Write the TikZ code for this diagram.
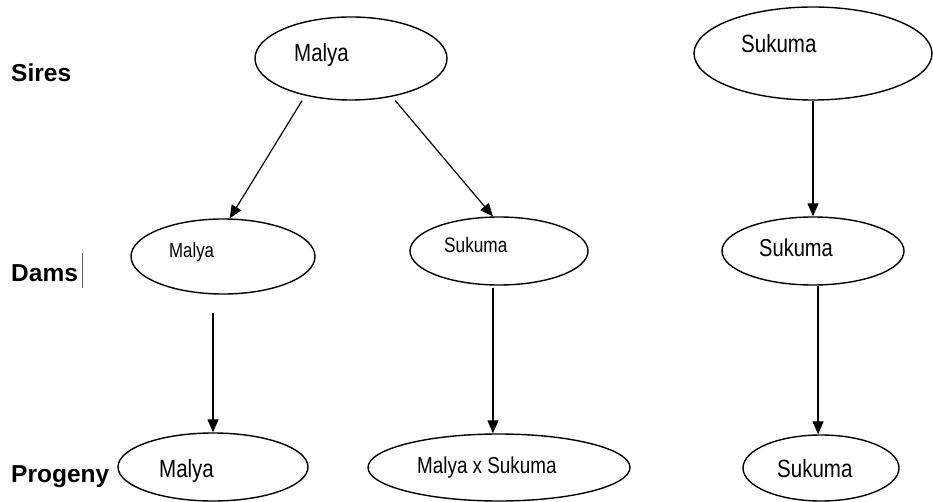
\documentclass[tikz,border=0pt]{standalone}
\usepackage{fontspec}
\setmainfont{Liberation Sans}
\newfontfamily\nf{Liberation Sans}[FakeStretch=0.82]
\usetikzlibrary{shapes.geometric,arrows.meta}
\begin{document}
\begin{tikzpicture}[x=1pt,y=-1pt,
  ell/.style={draw=black, ellipse, line width=1.4pt, inner sep=0pt},
  txt/.style={anchor=base west, inner sep=0pt, font=\nf\fontsize{#1}{#1}\selectfont},
  lbl/.style={anchor=base west, inner sep=0pt, font=\bfseries\fontsize{24.5}{24.5}\selectfont},
  arr/.style={line width=1.2pt, -{Triangle[length=13pt,width=11pt]}}]
\useasboundingbox (0,0) rectangle (933,502);
% labels
\node[lbl] (lsires) at (11,82) {Sires};
\node[lbl] (ldams) at (11,282) {Dams};
\node[lbl] (lprog) at (11,482) {Progeny};
\coordinate (cur1) at (82,253);
\coordinate (cur2) at (82,288);
\draw[gray!70!black, line width=0.8pt] (cur1) -- (cur2);
% sires
\node[ell, minimum width=192pt, minimum height=83pt] (s1) at (351,58.5) {};
\node[txt=25] (s1t) at (294,62) {Malya};
\node[ell, minimum width=238pt, minimum height=93pt] (s2) at (813,53.5) {};
\node[txt=25] (s2t) at (741,53) {Sukuma};
% dams
\node[ell, minimum width=184pt, minimum height=75pt] (d1) at (223,256.5) {};
\node[txt=20.5] (d1t) at (169,258) {Malya};
\node[ell, minimum width=178pt, minimum height=68pt] (d2) at (499,251) {};
\node[txt=21] (d2t) at (444,253) {Sukuma};
\node[ell, minimum width=182pt, minimum height=68pt] (d3) at (813,251) {};
\node[txt=24.5] (d3t) at (759,257) {Sukuma};
% progeny
\node[ell, minimum width=190pt, minimum height=68pt] (p1) at (213,467) {};
\node[txt=25] (p1t) at (159,477) {Malya};
\node[ell, minimum width=262pt, minimum height=67pt] (p2) at (499,467.5) {};
\node[txt=23] (p2t) at (417,473) {Malya x Sukuma};
\node[ell, minimum width=156pt, minimum height=66pt] (p3) at (821,468) {};
\node[txt=25] (p3t) at (777,477) {Sukuma};
% arrows
\draw[arr, shorten <=6pt] (s1.219) -- (d1.80);
\draw[arr, shorten <=5pt] (s1.317) -- (d2.100);
\draw[arr] (s2.south) -- (d3.north);
\draw[arr, shorten <=18pt] (d1.south -| p1.north) -- (p1.north);
\draw[arr, shorten <=2pt] (d2.south -| p2.100) -- (p2.100);
\draw[arr] (d3.south -| p3.95) -- (p3.95);
\end{tikzpicture}
\end{document}
